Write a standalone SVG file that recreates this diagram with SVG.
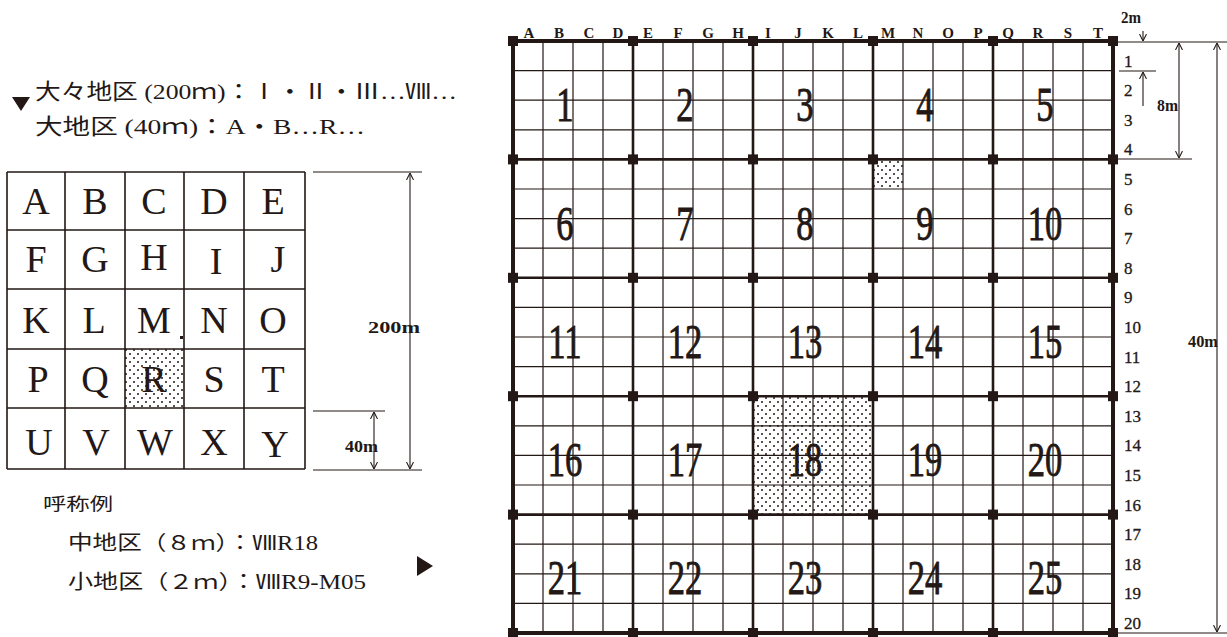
<svg xmlns="http://www.w3.org/2000/svg" width="1227" height="637" viewBox="0 0 1227 637">
<style>
.jp{font-family:"Liberation Serif","Noto Sans CJK JP",serif;fill:#231815}
.big{font-family:"Liberation Serif",serif;font-size:48px;fill:#231815;stroke:#231815;stroke-width:0.9;text-anchor:middle}
.let{font-family:"Liberation Serif",serif;font-size:38px;fill:#231815;text-anchor:middle}
.col{font-family:"Liberation Serif",serif;font-size:15px;font-weight:bold;fill:#231815;text-anchor:middle}
.row{font-family:"Liberation Serif",serif;font-size:17px;fill:#231815;stroke:#231815;stroke-width:0.3}
.dim{font-family:"Liberation Serif",serif;font-size:16px;font-weight:bold;fill:#231815}
.thin{stroke:#231815;stroke-width:1.1;fill:none}
.minor{stroke:#231815;stroke-width:1.2;fill:none}
.major{stroke:#231815;stroke-width:2.6;fill:none}
.border{stroke:#231815;stroke-width:4;fill:none}
.lgrid{stroke:#231815;stroke-width:1.6;fill:none}
</style>
<defs>
<pattern id="dots" width="8" height="8" patternUnits="userSpaceOnUse">
<rect width="8" height="8" fill="#fff"/>
<circle cx="2" cy="2" r="1" fill="#231815"/>
<circle cx="6" cy="6" r="1" fill="#231815"/>
</pattern>
<marker id="ah" viewBox="0 0 10 10" refX="10" refY="5" markerWidth="7" markerHeight="9" markerUnits="userSpaceOnUse" orient="auto-start-reverse">
<path d="M0,0 L10,5 L0,10" fill="none" stroke="#231815" stroke-width="1.5"/>
</marker>
</defs>
<rect width="1227" height="637" fill="#fff"/>

<g id="legend-top">
<polygon points="12,97 30,97 21,111" fill="#231815"/>
<text class="jp" x="35" y="99" font-size="22" textLength="422" lengthAdjust="spacingAndGlyphs">大々地区 (200ｍ)：Ⅰ・Ⅱ・Ⅲ…Ⅷ…</text>
<text class="jp" x="35" y="134" font-size="22" textLength="330" lengthAdjust="spacingAndGlyphs">大地区 (40ｍ)：A・B…R…</text>
</g>

<g id="left-grid">
<rect x="125" y="349" width="59" height="59" fill="url(#dots)"/>
<path class="lgrid" d="M7,172 H305 M7,230 H305 M7,289 H305 M7,349 H305 M7,408 H305 M7,469 H305 M7,172 V469 M65,172 V469 M125,172 V469 M184,172 V469 M244,172 V469 M305,172 V469"/>
<rect x="180" y="336" width="3" height="3" fill="#231815"/>
<g class="let">
<text x="36" y="214">A</text><text x="95" y="214">B</text><text x="154" y="214">C</text><text x="214" y="214">D</text><text x="273" y="214">E</text>
<text x="36" y="272">F</text><text x="95" y="272">G</text><text x="154" y="270">H</text><text x="216" y="274">I</text><text x="278" y="272">J</text>
<text x="36" y="333">K</text><text x="94" y="333">L</text><text x="154" y="333">M</text><text x="214" y="333">N</text><text x="273" y="333">O</text>
<text x="38" y="392">P</text><text x="95" y="392">Q</text><text x="154" y="392">R</text><text x="214" y="392">S</text><text x="273" y="392">T</text>
<text x="39" y="455">U</text><text x="96" y="455">V</text><text x="155" y="455">W</text><text x="214" y="455">X</text><text x="275" y="457">Y</text>
</g>
</g>

<g id="left-dims">
<path class="thin" d="M313,172 H422 M313,470 H422 M313,411 H385"/>
<line class="thin" x1="410" y1="173" x2="410" y2="469" marker-start="url(#ah)" marker-end="url(#ah)"/>
<line class="thin" x1="374" y1="412" x2="374" y2="469" marker-start="url(#ah)" marker-end="url(#ah)"/>
<text class="dim" x="368" y="333" textLength="52" lengthAdjust="spacingAndGlyphs">200m</text>
<text class="dim" x="345" y="452" textLength="33" lengthAdjust="spacingAndGlyphs">40m</text>
</g>

<g id="legend-bottom">
<text class="jp" x="43" y="510" font-size="17" textLength="70" lengthAdjust="spacingAndGlyphs">呼称例</text>
<text class="jp" x="68" y="550" font-size="20" textLength="250" lengthAdjust="spacingAndGlyphs">中地区（８ｍ）：ⅧR18</text>
<text class="jp" x="68" y="589" font-size="20" textLength="298" lengthAdjust="spacingAndGlyphs">小地区（２ｍ）：ⅧR9-M05</text>
<polygon points="417,556 433,566 417,576" fill="#231815"/>
</g>

<g id="right-grid">
<rect x="753" y="396.2" width="120" height="118.4" fill="url(#dots)"/>
<rect x="873" y="159.4" width="30" height="29.6" fill="url(#dots)"/>
<path class="minor" d="M543,41 V633 M573,41 V633 M603,41 V633 M663,41 V633 M693,41 V633 M723,41 V633 M783,41 V633 M813,41 V633 M843,41 V633 M903,41 V633 M933,41 V633 M963,41 V633 M1023,41 V633 M1053,41 V633 M1083,41 V633 M513,70.6 H1113 M513,100.2 H1113 M513,129.8 H1113 M513,189 H1113 M513,218.6 H1113 M513,248.2 H1113 M513,307.4 H1113 M513,337 H1113 M513,366.6 H1113 M513,425.8 H1113 M513,455.4 H1113 M513,485 H1113 M513,544.2 H1113 M513,573.8 H1113 M513,603.4 H1113"/>
<path class="major" d="M633,41 V633 M753,41 V633 M873,41 V633 M993,41 V633 M513,159.4 H1113 M513,277.8 H1113 M513,396.2 H1113 M513,514.6 H1113"/>
<rect class="border" x="513" y="41" width="600" height="592"/>
<g fill="#231815">
<rect x="508" y="36" width="10" height="10"/><rect x="628" y="36" width="10" height="10"/><rect x="748" y="36" width="10" height="10"/><rect x="868" y="36" width="10" height="10"/><rect x="988" y="36" width="10" height="10"/><rect x="1108" y="36" width="10" height="10"/>
<rect x="508" y="154.4" width="10" height="10"/><rect x="628" y="154.4" width="10" height="10"/><rect x="748" y="154.4" width="10" height="10"/><rect x="868" y="154.4" width="10" height="10"/><rect x="988" y="154.4" width="10" height="10"/><rect x="1108" y="154.4" width="10" height="10"/>
<rect x="508" y="272.8" width="10" height="10"/><rect x="628" y="272.8" width="10" height="10"/><rect x="748" y="272.8" width="10" height="10"/><rect x="868" y="272.8" width="10" height="10"/><rect x="988" y="272.8" width="10" height="10"/><rect x="1108" y="272.8" width="10" height="10"/>
<rect x="508" y="391.2" width="10" height="10"/><rect x="628" y="391.2" width="10" height="10"/><rect x="748" y="391.2" width="10" height="10"/><rect x="868" y="391.2" width="10" height="10"/><rect x="988" y="391.2" width="10" height="10"/><rect x="1108" y="391.2" width="10" height="10"/>
<rect x="508" y="509.6" width="10" height="10"/><rect x="628" y="509.6" width="10" height="10"/><rect x="748" y="509.6" width="10" height="10"/><rect x="868" y="509.6" width="10" height="10"/><rect x="988" y="509.6" width="10" height="10"/><rect x="1108" y="509.6" width="10" height="10"/>
<rect x="508" y="628" width="10" height="10"/><rect x="628" y="628" width="10" height="10"/><rect x="748" y="628" width="10" height="10"/><rect x="868" y="628" width="10" height="10"/><rect x="988" y="628" width="10" height="10"/><rect x="1108" y="628" width="10" height="10"/>
</g>
</g>

<g id="cell-numbers" class="big">
<text transform="translate(565,121) scale(0.72,1)">1</text>
<text transform="translate(685,121) scale(0.72,1)">2</text>
<text transform="translate(805,121) scale(0.72,1)">3</text>
<text transform="translate(925,121) scale(0.72,1)">4</text>
<text transform="translate(1045,121) scale(0.72,1)">5</text>
<text transform="translate(565,240) scale(0.72,1)">6</text>
<text transform="translate(685,240) scale(0.72,1)">7</text>
<text transform="translate(805,240) scale(0.72,1)">8</text>
<text transform="translate(925,240) scale(0.72,1)">9</text>
<text transform="translate(1045,240) scale(0.72,1)">10</text>
<text transform="translate(565,358) scale(0.72,1)">11</text>
<text transform="translate(685,358) scale(0.72,1)">12</text>
<text transform="translate(805,358) scale(0.72,1)">13</text>
<text transform="translate(925,358) scale(0.72,1)">14</text>
<text transform="translate(1045,358) scale(0.72,1)">15</text>
<text transform="translate(565,476) scale(0.72,1)">16</text>
<text transform="translate(685,476) scale(0.72,1)">17</text>
<text transform="translate(805,476) scale(0.72,1)">18</text>
<text transform="translate(925,476) scale(0.72,1)">19</text>
<text transform="translate(1045,476) scale(0.72,1)">20</text>
<text transform="translate(565,594) scale(0.72,1)">21</text>
<text transform="translate(685,594) scale(0.72,1)">22</text>
<text transform="translate(805,594) scale(0.72,1)">23</text>
<text transform="translate(925,594) scale(0.72,1)">24</text>
<text transform="translate(1045,594) scale(0.72,1)">25</text>
</g>

<g id="col-labels" class="col">
<text x="529" y="38">A</text><text x="559" y="38">B</text><text x="589" y="38">C</text><text x="618" y="38">D</text><text x="648" y="38">E</text><text x="678" y="38">F</text><text x="708" y="38">G</text><text x="738" y="38">H</text><text x="768" y="38">I</text><text x="798" y="38">J</text><text x="828" y="38">K</text><text x="858" y="38">L</text><text x="888" y="38">M</text><text x="918" y="38">N</text><text x="948" y="38">O</text><text x="978" y="38">P</text><text x="1008" y="38">Q</text><text x="1038" y="38">R</text><text x="1068" y="38">S</text><text x="1098" y="38">T</text>
</g>

<g id="row-labels" class="row">
<text x="1124" y="67">1</text><text x="1124" y="96">2</text><text x="1124" y="126">3</text><text x="1124" y="155">4</text><text x="1124" y="185">5</text>
<text x="1124" y="215">6</text><text x="1124" y="244">7</text><text x="1124" y="274">8</text><text x="1124" y="303">9</text><text x="1124" y="333">10</text>
<text x="1124" y="363">11</text><text x="1124" y="392">12</text><text x="1124" y="422">13</text><text x="1124" y="451">14</text><text x="1124" y="481">15</text>
<text x="1124" y="511">16</text><text x="1124" y="540">17</text><text x="1124" y="570">18</text><text x="1124" y="599">19</text><text x="1124" y="629">20</text>
</g>

<g id="right-dims">
<path class="thin" d="M1118,42 H1227 M1119,71 H1156 M1118,159 H1192 M1118,633 H1227"/>
<line class="thin" x1="1143" y1="31" x2="1143" y2="41" marker-end="url(#ah)"/>
<line class="thin" x1="1143" y1="106" x2="1143" y2="72" marker-end="url(#ah)"/>
<line class="thin" x1="1179" y1="43" x2="1179" y2="158" marker-start="url(#ah)" marker-end="url(#ah)"/>
<line class="thin" x1="1217" y1="43" x2="1217" y2="632" marker-start="url(#ah)" marker-end="url(#ah)"/>
<text class="dim" x="1121" y="23" textLength="20" lengthAdjust="spacingAndGlyphs">2m</text>
<text class="dim" x="1157" y="111" textLength="21" lengthAdjust="spacingAndGlyphs">8m</text>
<text class="dim" x="1188" y="347" textLength="30" lengthAdjust="spacingAndGlyphs">40m</text>
</g>
</svg>
